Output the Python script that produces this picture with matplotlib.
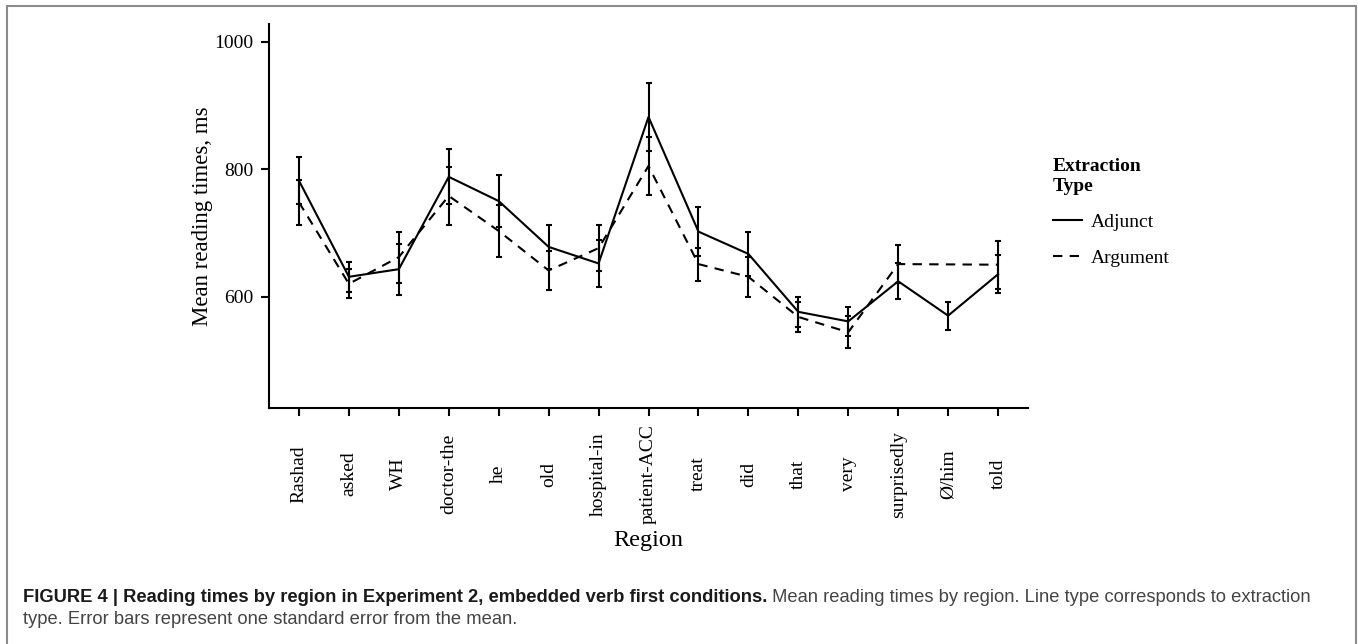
import numpy as np
import matplotlib
matplotlib.use('Agg')
import matplotlib.pyplot as plt
from matplotlib import font_manager
from matplotlib.patches import Rectangle

regions = ['Rashad', 'asked', 'WH', 'doctor-the', 'he', 'old', 'hospital-in',
           'patient-ACC', 'treat', 'did', 'that', 'very', 'surprisedly',
           'Ø/him', 'told']

adjunct_mean = [782, 631, 643, 788, 750, 678, 652, 882, 702, 667, 576, 561, 624, 570, 635]
adjunct_se = [37, 24, 40, 43, 41, 34, 37, 53, 38, 35, 24, 23, 28, 22, 30]

# no argument condition at Ø/him
argument_mean = [748, 620, 662, 758, 703, 641, 676, 805, 651, 631, 568, 544, 651, np.nan, 650]
argument_se = [35, 23, 40, 45, 41, 31, 36, 45, 26, 31, 24, 25, 30, np.nan, 38]

yticks = [600, 800, 1000]

caption_bold = "FIGURE 4 | Reading times by region in Experiment 2, embedded verb first conditions."
caption_rest = " Mean reading times by region. Line type corresponds to extraction"
caption_line2 = "type. Error bars represent one standard error from the mean."

names = {f.name for f in font_manager.fontManager.ttflist}
cap_font = 'Liberation Sans Narrow' if 'Liberation Sans Narrow' in names else 'Liberation Sans'
serif = 'Liberation Serif'

W, H = 1358, 644
fig = plt.figure(figsize=(W / 100, H / 100), dpi=100)
ax = fig.add_axes([269 / W, 1 - 408 / H, (1028 - 269) / W, (408 - 24) / H])

x = np.arange(len(regions))
adj_m = np.array(adjunct_mean, dtype=float)
adj_s = np.array(adjunct_se, dtype=float)
arg_m = np.array(argument_mean, dtype=float)
arg_s = np.array(argument_se, dtype=float)
ok = ~np.isnan(arg_m)

ax.plot(x, adj_m, color='black', lw=1.5, label='Adjunct')
ax.errorbar(x, adj_m, yerr=adj_s, fmt='none', ecolor='black',
            elinewidth=1.5, capsize=2.5, capthick=1.5)
ax.plot(x[ok], arg_m[ok], color='black', lw=1.5, dashes=(4.5, 3.5), label='Argument')
ax.errorbar(x[ok], arg_m[ok], yerr=arg_s[ok], fmt='none', ecolor='black',
            elinewidth=1.5, capsize=2.5, capthick=1.5)

ax.set_xlim(-0.6, 14.6)
ax.set_ylim(425, 1028)
ax.set_yticks(yticks)
ax.set_yticklabels([str(v) for v in yticks], fontfamily=serif, fontsize=14)
ax.set_xticks(x, labels=[])
ax.tick_params(axis='both', length=6, width=1.5, color='black', pad=5)

for s in ['top', 'right']:
    ax.spines[s].set_visible(False)
for s in ['left', 'bottom']:
    ax.spines[s].set_linewidth(1.5)

for xi, name in zip(x, regions):
    ax.text(xi, -0.172, name, transform=ax.get_xaxis_transform(), rotation=90,
            ha='center', va='center', fontfamily=serif, fontsize=14)

ax.text(0.5, -0.346, 'Region', transform=ax.transAxes, ha='center', va='center',
        fontfamily=serif, fontsize=17.5)
ax.text(-0.087, 0.5, 'Mean reading times, ms', transform=ax.transAxes, rotation=90,
        ha='center', va='center', fontfamily=serif, fontsize=16.5)

leg = ax.legend(loc='upper left', bbox_to_anchor=(1053 / W, 1 - 158 / H),
                bbox_transform=fig.transFigure, frameon=False,
                title='Extraction\nType',
                prop={'family': serif, 'size': 14},
                title_fontproperties={'family': serif, 'size': 14, 'weight': 'bold'},
                handlelength=1.5, handletextpad=0.45, labelspacing=0.95,
                borderpad=0, borderaxespad=0)
leg._legend_box.align = 'left'
leg.get_title().set_linespacing(1.2)

# caption below the chart
fs = 12
t1 = fig.text(23 / W, 1 - 597 / H, caption_bold, fontfamily=cap_font, fontweight='bold',
              fontsize=fs, color='#1a1a1a', va='center')
t2 = fig.text(0, 1 - 597 / H, caption_rest, fontfamily=cap_font, fontsize=fs,
              color='#444444', va='center')
t3 = fig.text(23 / W, 1 - 620 / H, caption_line2, fontfamily=cap_font, fontsize=fs,
              color='#444444', va='center')
fig.canvas.draw()
r = fig.canvas.get_renderer()
w1 = t1.get_window_extent(r).width
w2 = t2.get_window_extent(r).width
scale = (1307 - 23) / (w1 + w2)
fs = fs * scale
for t in (t1, t2, t3):
    t.set_fontsize(fs)
fig.canvas.draw()
w1 = t1.get_window_extent(r).width
t2.set_x((23 + w1) / W)

fig.add_artist(Rectangle((7 / W, -0.01), (1356 - 7) / W, 1 - 6 / H + 0.01,
                         transform=fig.transFigure, fill=False,
                         edgecolor='#8c8c8c', lw=1.5))

fig.savefig('out.png', dpi=100)
